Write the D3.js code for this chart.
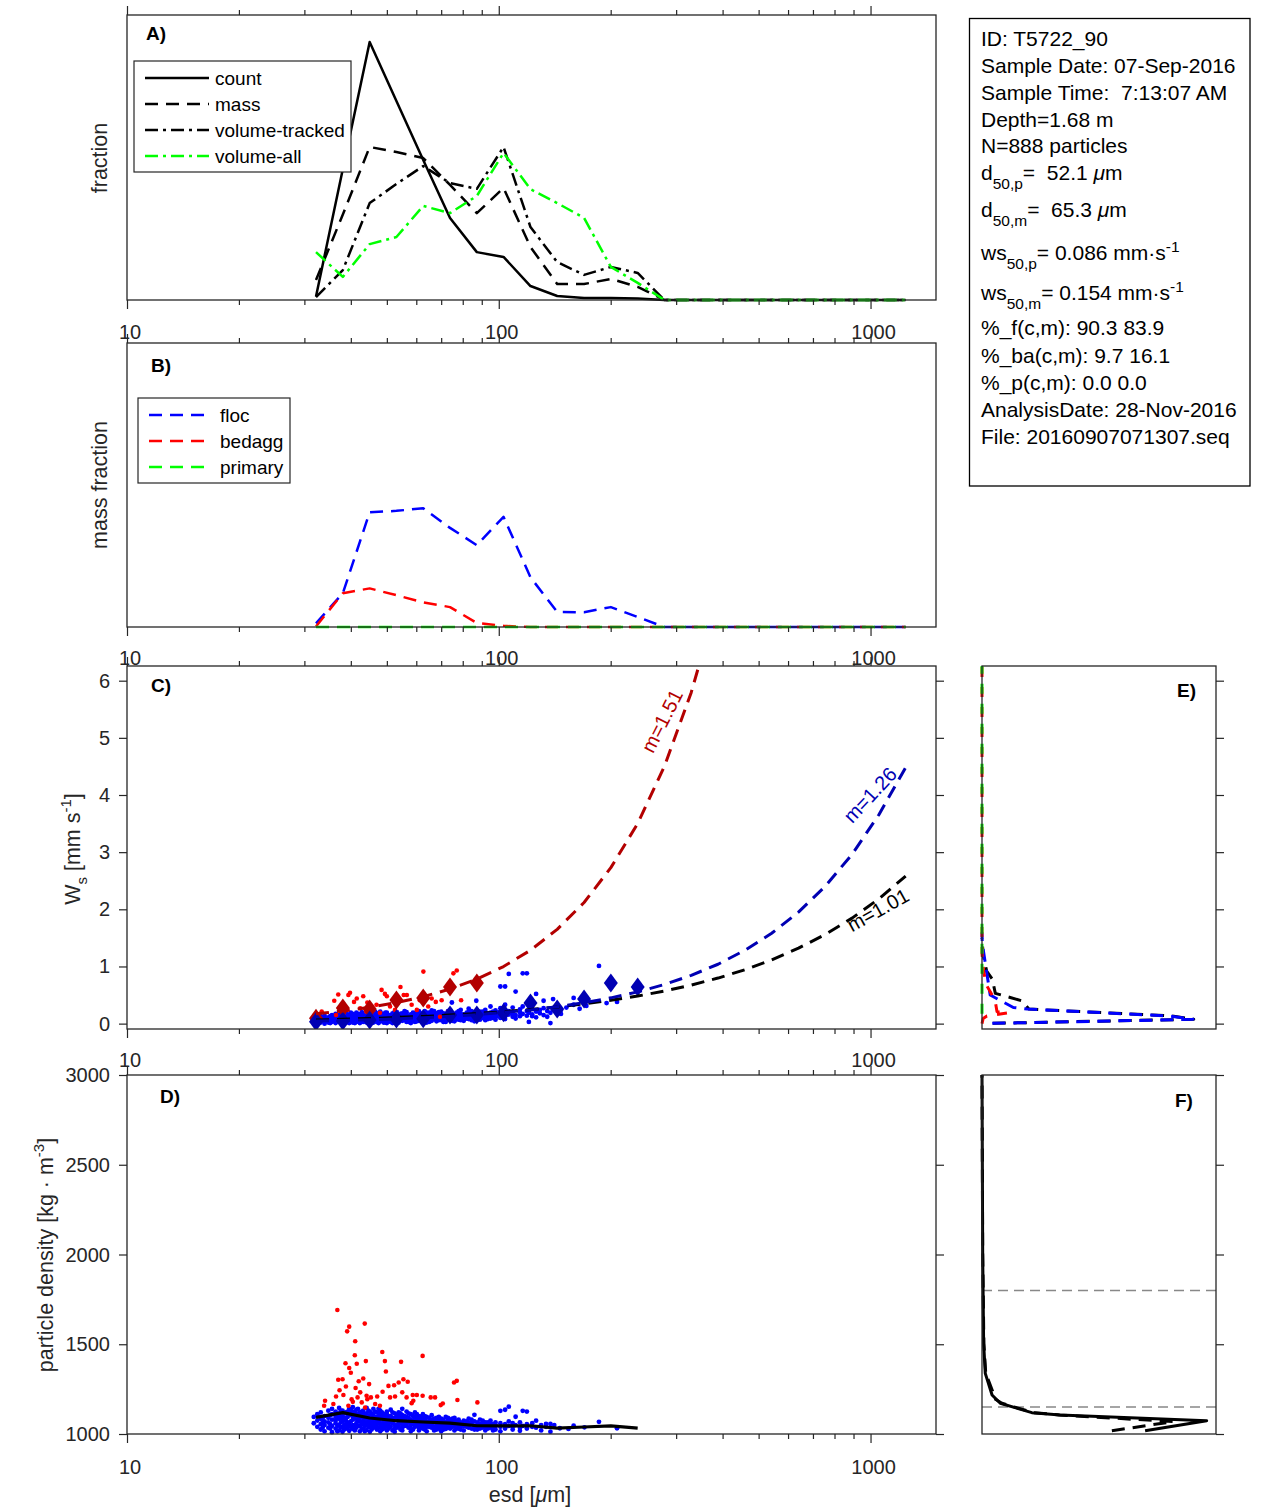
<!DOCTYPE html>
<html><head><meta charset="utf-8">
<script src="https://cdn.jsdelivr.net/npm/d3@7"></script>
<style>
body{margin:0;background:#fff;}
svg{font-family:"Liberation Sans",Arial,Helvetica,sans-serif;}
text{white-space:pre;}
</style></head><body>
<svg id="chart" width="1270" height="1511"></svg>
<script>
// ---------------- DATA ----------------
const binCenters=[32.24,38.07,44.95,53.05,62.63,73.94,87.30,103.0,121.7,143.6,169.6,200.2,236.4,279.0,329.4,388.9,459.2,542.0,640.0,755.5,891.9,1053,1243];
// panel A (fractions, relative to axis height)
const countFrac=[0.012,0.46,0.905,0.698,0.491,0.288,0.168,0.151,0.049,0.014,0.007,0.007,0.005,0,0,0,0,0,0,0,0,0,0];
const massFrac=[0.07,0.30,0.537,0.519,0.498,0.404,0.305,0.393,0.186,0.056,0.056,0.074,0.046,0,0,0,0,0,0,0,0,0,0];
const volTrackedFrac=[0.01,0.105,0.34,0.407,0.47,0.41,0.39,0.537,0.256,0.133,0.088,0.116,0.095,0,0,0,0,0,0,0,0,0,0];
const volAllFrac=[0.168,0.081,0.196,0.221,0.33,0.305,0.365,0.516,0.389,0.34,0.288,0.116,0.06,0,0,0,0,0,0,0,0,0,0];
// panel B
const flocMassFrac=[0.013,0.119,0.404,0.409,0.418,0.349,0.288,0.388,0.175,0.053,0.052,0.07,0.035,0,0,0,0,0,0,0,0,0,0];
const bedaggMassFrac=[0.002,0.119,0.136,0.112,0.087,0.07,0.014,0.004,0,0,0,0,0,0,0,0,0,0,0,0,0,0,0];
const primaryMassFrac=[0,0,0,0,0,0,0,0,0,0,0,0,0,0,0,0,0,0,0,0,0,0,0];
// panel C fitted curves (ws mm/s at bin centers)
const wsFitM151=[0.173,0.221,0.285,0.367,0.471,0.605,0.778,0.999,1.284,1.650,2.119,2.729,3.500,4.504,5.795,7.43,9.55];
const wsFitM126=[0.045,0.055,0.068,0.084,0.104,0.128,0.158,0.195,0.240,0.296,0.365,0.451,0.555,0.685,0.845,1.039,1.283,1.581,1.950,2.404,2.962,3.655,4.48];
const wsFitM101=[0.064,0.076,0.090,0.107,0.126,0.149,0.176,0.208,0.246,0.291,0.344,0.408,0.482,0.570,0.675,0.797,0.943,1.115,1.320,1.561,1.846,2.184,2.58];
const fitLabels=["m=1.51","m=1.26","m=1.01"];
// bin-mean settling velocities (diamonds)
const bedaggMeanWs=[0.093,0.273,0.255,0.413,0.448,0.64,0.71];
const flocMeanWs=[0.033,0.045,0.063,0.081,0.086,0.150,0.150,0.191,0.360,0.255,0.430,0.710,0.641];
// panel C scatter: floc columns [esd, [ws...]]
const flocWsCols=[
[31.8,[0.03,0.08]],[32.5,[0.01,0.05,0.11]],[33.2,[0.07,0.02,0.13]],[34,[0.04,0.09,0.0,0.14]],
[34.8,[0.06,0.11,0.02]],[35.6,[0.08,0.03,0.15,0.12]],[36.4,[0.05,0.10,0.01,0.17]],[37.2,[0.07,0.12,0.03,0.14]],
[38,[0.09,0.04,0.16,0.0,0.11]],[38.8,[0.06,0.13,0.02,0.18]],[39.6,[0.08,0.10,0.04,0.15,0.01]],[40.5,[0.05,0.12,0.17,0.02,0.09]],
[41.4,[0.07,0.14,0.03,0.11,0.19]],[42.3,[0.10,0.05,0.16,0.01,0.13]],[43.2,[0.06,0.12,0.08,0.18,0.03]],[44.1,[0.09,0.14,0.02,0.11,0.05]],
[45,[0.07,0.16,0.04,0.12,0.20,0.0]],[46,[0.10,0.05,0.13,0.08,0.02]],[47,[0.06,0.15,0.11,0.03,0.18]],[48,[0.09,0.13,0.04,0.07,0.21]],
[49,[0.11,0.02,0.16,0.06,0.14]],[50,[0.08,0.12,0.04,0.19,0.01]],[51.2,[0.10,0.06,0.15,0.13,0.03]],[52.5,[0.07,0.17,0.11,0.04,0.21]],
[53.8,[0.09,0.14,0.02,0.12,0.06]],[55,[0.11,0.05,0.18,0.08,0.15]],[56.5,[0.07,0.13,0.03,0.20,0.10]],[58,[0.09,0.16,0.05,0.12,0.01]],
[59.5,[0.12,0.07,0.18,0.03,0.14]],[61,[0.08,0.15,0.10,0.22,0.05]],[62.5,[0.11,0.04,0.17,0.13,0.07]],[64,[0.09,0.14,0.19,0.02,0.12]],
[66,[0.07,0.16,0.11,0.05,0.23]],[68,[0.10,0.13,0.04,0.18,0.08]],[70,[0.12,0.06,0.15,0.21,0.09]],[72,[0.08,0.17,0.11,0.03,0.14]],
[74,[0.13,0.06,0.19,0.10,0.24]],[74.8,[0.37]],[76,[0.09,0.15,0.12,0.04]],[78,[0.11,0.18,0.07,0.22,0.14]],[80.5,[0.10,0.16,0.05,0.13]],
[83,[0.12,0.20,0.08,0.26,0.15]],[86,[0.09,0.14,0.18,0.04]],[87,[0.40]],[89,[0.13,0.07,0.21,0.11]],[92,[0.10,0.16,0.24,0.06]],
[95,[0.14,0.09,0.19,0.30]],[98,[0.12,0.17,0.07,0.23]],[101,[0.15,0.10,0.27,0.65]],[104,[0.13,0.19,0.08,0.65,0.33]],
[106.4,[0.16,0.22,0.87]],[109,[0.12,0.18,0.28]],[111,[0.15,0.56,0.09]],[114,[0.20,0.13,0.25]],[116,[0.17,0.88,0.30]],
[119,[0.14,0.88,0.22]],[120.5,[0.03,0.19]],[123,[0.13,0.16,0.26]],[126,[0.52,0.21,0.11]],[129,[0.18,0.24]],
[132,[0.40,0.15,0.27]],[135,[0.22,0.12]],[137.7,[0.01,0.19]],[140,[0.43,0.25]],[144,[0.21,0.30]],[147,[0.24,0.17]],
[152,[0.28]],[159,[0.45,0.33]],[165,[0.26]],[172,[0.31]],[186,[1.01]],[195,[0.36]],[208,[0.38]],
[33.6,[0.05,0.10]],[35.2,[0.07,0.13,0.01]],[36.8,[0.09,0.04,0.15]],[37.6,[0.06,0.11,0.17]],[38.4,[0.08,0.13,0.02]],
[39.2,[0.05,0.11,0.16]],[40,[0.07,0.13,0.03,0.19]],[41,[0.09,0.15,0.01]],[41.8,[0.05,0.12,0.17]],[42.8,[0.08,0.14,0.03,0.20]],
[43.6,[0.10,0.16,0.05]],[44.6,[0.07,0.13,0.18,0.01]],[45.5,[0.09,0.14,0.04]],[46.5,[0.06,0.12,0.17,0.21]],[47.5,[0.08,0.14,0.01]],
[48.5,[0.10,0.05,0.17]],[49.5,[0.07,0.13,0.19,0.02]],[50.6,[0.09,0.15,0.05]],[51.8,[0.07,0.12,0.18,0.01]],[53.2,[0.10,0.15,0.04,0.20]],
[54.4,[0.08,0.13,0.17]],[55.8,[0.06,0.12,0.16,0.22]],[57.2,[0.09,0.14,0.03]],[58.8,[0.07,0.11,0.19]],[60.2,[0.10,0.16,0.04,0.21]],
[61.8,[0.08,0.13,0.18]],[63.2,[0.06,0.11,0.16,0.22]],[65,[0.09,0.15,0.03,0.19]],[67,[0.08,0.12,0.17,0.22]],[69,[0.06,0.11,0.16,0.20]],
[71,[0.09,0.14,0.18,0.03]],[73,[0.07,0.12,0.17,0.22]],[75,[0.10,0.15,0.05]],[77,[0.08,0.13,0.19]],[79,[0.06,0.12,0.17,0.24]],
[82,[0.09,0.14,0.19]],[84.5,[0.11,0.16,0.22,0.06]],[87.5,[0.08,0.13,0.19]],[90.5,[0.10,0.15,0.21]],[93.5,[0.12,0.18,0.08]],
[96.5,[0.10,0.15,0.21]],[99.5,[0.13,0.19]],[102.5,[0.11,0.17,0.24]]
];
// panel C scatter: bedagg [esd, ws]
const bedaggWs=[[37.0,0.51],[39.4,0.50],[39.8,0.54],[40.8,0.38],[41.5,0.44],[43.2,0.48],[44.3,0.37],[48.4,0.59],[49.4,0.52],[50.0,0.48],
[54.4,0.64],[55.5,0.50],[56.6,0.50],[62.7,0.91],[70.2,0.41],[75.5,0.88],[77.1,0.93],[66.0,0.44],[67.7,0.38],[39.0,0.24],[42.4,0.27],
[46.0,0.24],[46.9,0.33],[51.0,0.30],[52.6,0.24],[58.3,0.33],[60.2,0.24],[64.6,0.30],[38.2,0.18],[33.4,0.21],[31.7,0.06],[36.1,0.40],
[36.5,0.15],[44.0,0.21],[47.9,0.19],[73.2,0.21],[69.5,0.12],[61.3,0.41],[79.2,0.41],[53.5,0.36],[45.5,0.30]];
// panel D scatter: floc columns [esd, [density...]]
const flocRhoCols=[
[31.8,[1095,1060]],[32.5,[1110,1040,1075]],[33.2,[1085,1120,1025,1055]],[34,[1100,1050,1070,1015]],
[34.8,[1130,1065,1090,1035]],[35.6,[1080,1045,1110,1010,1140]],[36.4,[1095,1060,1125,1030,1075]],[37.2,[1115,1050,1085,1020,1145]],
[38,[1070,1100,1040,1130,1012,1088]],[38.8,[1090,1055,1120,1030,1075]],[39.6,[1105,1065,1140,1045,1018]],[40.5,[1080,1125,1050,1095,1028,1150]],
[41.4,[1060,1110,1035,1085,1135]],[42.3,[1100,1070,1045,1120,1015,1090]],[43.2,[1075,1130,1055,1030,1105]],[44.1,[1090,1050,1115,1065,1022,1145]],
[45,[1080,1040,1100,1125,1060,1012]],[46,[1070,1105,1035,1090,1140,1050]],[47,[1095,1055,1120,1025,1075]],[48,[1060,1085,1110,1040,1130,1015]],
[49,[1080,1045,1100,1065,1030]],[50,[1090,1055,1125,1020,1070,1110]],[51.2,[1065,1100,1040,1080,1135]],[52.5,[1075,1050,1115,1030,1090,1012]],
[53.8,[1060,1095,1045,1120,1070]],[55,[1085,1035,1105,1055,1140,1020]],[56.5,[1070,1045,1095,1060,1125]],[58,[1080,1030,1110,1050,1015,1065]],
[59.5,[1055,1090,1040,1075,1120]],[61,[1065,1100,1035,1080,1020,1050]],[62.5,[1045,1085,1060,1110,1030]],[64,[1070,1040,1095,1055,1015]],
[66,[1060,1080,1035,1105,1050]],[68,[1045,1075,1025,1090,1060]],[70,[1055,1085,1035,1070,1015]],[72,[1065,1040,1095,1050,1028]],
[74,[1050,1080,1030,1060]],[76,[1070,1045,1090,1020,1055]],[78,[1040,1065,1030,1080]],[80.5,[1055,1075,1020,1045]],
[83,[1060,1035,1085,1050]],[86,[1045,1070,1025,1107]],[89,[1055,1030,1080,1042]],[92,[1065,1040,1020,1050]],
[95,[1035,1060,1075]],[98,[1050,1025,1045,1065]],[101,[1040,1129,1060,1015]],[104,[1030,1135,1055]],[106.4,[1152,1045,1070]],
[109,[1025,1060,1040]],[111,[1096,1050]],[114,[1035,1065,1018]],[116,[1129,1045]],[119,[1125,1030,1055]],[123,[1040,1060]],
[126,[1074,1035]],[130,[1050,1020]],[134,[1056,1040]],[137.7,[1013,1056]],[141,[1050]],[146,[1032]],[154,[1028]],
[159,[1046]],[170,[1037]],[186,[1068]],[208,[1032]],
[33.6,[1090,1035,1065]],[35.2,[1105,1055,1030]],[36.8,[1090,1045,1110,1015]],[37.6,[1065,1100,1035,1130]],[38.4,[1080,1050,1115,1025]],
[39.2,[1095,1060,1125,1035]],[40,[1070,1110,1040,1135]],[41,[1090,1050,1120,1020]],[41.8,[1075,1100,1045,1140]],[42.8,[1060,1095,1125,1030]],
[43.6,[1085,1045,1110,1015]],[44.6,[1070,1100,1040,1130]],[45.5,[1055,1090,1115,1025]],[46.5,[1080,1060,1125,1040]],[47.5,[1070,1100,1035,1140]],
[48.5,[1050,1095,1120,1025]],[49.5,[1065,1110,1040,1085]],[50.6,[1045,1080,1100,1030]],[51.8,[1060,1090,1120,1020]],[53.2,[1050,1085,1105,1035]],
[54.4,[1070,1095,1025,1115]],[55.8,[1045,1080,1100,1060]],[57.2,[1065,1090,1035,1115]],[58.8,[1055,1075,1100,1025]],[60.2,[1045,1085,1060,1110]],
[61.8,[1070,1035,1095,1050]],[63.2,[1060,1080,1025,1100]],[65,[1050,1070,1040,1090]],[67,[1065,1040,1085,1020]],[69,[1050,1075,1030,1095]],
[71,[1045,1065,1080,1025]],[73,[1055,1075,1035,1090]],[75,[1040,1065,1085]],[77,[1055,1030,1075]],[79,[1045,1065,1025]],
[82,[1040,1070,1055]],[84.5,[1030,1060,1080]],[87.5,[1045,1065,1025]],[90.5,[1035,1055,1075]],[93.5,[1045,1065,1030]],[96.5,[1040,1055,1020]]
];
// panel D scatter: bedagg [esd, density]
const bedaggRho=[[36.8,1691],[39.6,1598],[39.1,1572],[43.6,1615],[41.1,1517],[41.0,1439],[38.7,1394],[41.5,1391],[39.6,1368],[40.0,1341],
[43.9,1406],[48.6,1457],[49.4,1406],[49.7,1348],[54.6,1402],[62.4,1435],[37.0,1302],[38.0,1305],[43.2,1309],[42.0,1294],[44.8,1278],
[37.3,1244],[38.8,1265],[41.2,1256],[42.4,1232],[36.5,1209],[38.2,1217],[40.2,1194],[44.1,1213],[45.3,1204],[47.1,1209],[48.7,1235],
[50.5,1268],[52.3,1272],[53.8,1287],[55.4,1305],[56.9,1291],[51.0,1204],[52.6,1209],[55.0,1232],[56.5,1204],[58.7,1217],[60.2,1217],
[58.3,1172],[58.9,1185],[62.4,1213],[65.6,1204],[67.4,1204],[75.8,1287],[77.1,1296],[77.4,1189],[69.8,1161],[70.7,1170],[87.6,1176],
[34.1,1185],[33.9,1157],[35.9,1167],[39.4,1157],[40.5,1179],[42.8,1176],[44.3,1194],[46.5,1167],[47.9,1157],[41.7,1204],[43.7,1148]];
const meanRho=[1093,1119,1089,1074,1067,1061,1046,1045,1046,1033,1039,1045,1033];
// panel E: [fraction, ws]
const eTotal=[[0.046,0.005],[0.905,0.077],[0.81,0.135],[0.20,0.255],[0.17,0.40],[0.057,0.53],[0.044,0.78],[0.02,0.92],[0.005,1.2],[0,1.5]];
const eFloc=[[0.044,0.005],[0.902,0.075],[0.804,0.133],[0.193,0.255],[0.134,0.282],[0.035,0.50],[0.014,1.06],[0.001,1.41],[0,1.6]];
const eBedagg=[[0,0.0],[0.005,0.09],[0.021,0.133],[0.112,0.19],[0.064,0.21],[0.057,0.38],[0.043,0.50],[0.019,0.675],[0.007,0.91],[0,1.23],[0,6.257]];
const ePrimary=[[0,0],[0,6.257]];
// panel F: [fraction, density]
const fSolid=[[0.697,1018],[0.960,1074],[0.334,1106],[0.213,1119],[0.078,1171],[0.043,1217],[0.014,1338],[0.007,1505],[0.003,2000],[0,3000]];
const fDashed=[[0.555,1018],[0.818,1069],[0.33,1106],[0.22,1119],[0.085,1171],[0.05,1200],[0.045,1240],[0.016,1338],[0.008,1505],[0.003,2000],[0,3000]];
const fRefRho=[1800,1150];
// ticks
const xTickMajor=[10,100,1000];
const xTickLabels=["10","100","1000"];
const xTickMinor=[20,30,40,50,60,70,80,90,200,300,400,500,600,700,800,900];
const wsTicks=[0,1,2,3,4,5,6];
const rhoTicks=[1000,1500,2000,2500,3000];
// info box
const infoLines=[
 [["ID: T5722_90"]],
 [["Sample Date: 07-Sep-2016"]],
 [["Sample Time:  7:13:07 AM"]],
 [["Depth=1.68 m"]],
 [["N=888 particles"]],
 [["d"],["50,p","sub"],["=  52.1 "],["\u03bc","it"],["m"]],
 [["d"],["50,m","sub"],["=  65.3 "],["\u03bc","it"],["m"]],
 [["ws"],["50,p","sub"],["= 0.086 mm\u00b7s"],["-1","sup"]],
 [["ws"],["50,m","sub"],["= 0.154 mm\u00b7s"],["-1","sup"]],
 [["%_f(c,m): 90.3 83.9"]],
 [["%_ba(c,m): 9.7 16.1"]],
 [["%_p(c,m): 0.0 0.0"]],
 [["AnalysisDate: 28-Nov-2016"]],
 [["File: 20160907071307.seq"]]
];

// ---------------- LAYOUT ----------------
const AX='#262626';
const L=127,R=936;
const P={A:[15,300],B:[343,627],C:[666,1029],D:[1075,1434]};
const EX=[982,1216];
const svg=d3.select('#chart');
const x=d3.scaleLog().domain([10,1500]).range([L,R]);
const yA=d3.scaleLinear().domain([0,1]).range([P.A[1],P.A[0]]);
const yB=d3.scaleLinear().domain([0,1]).range([P.B[1],P.B[0]]);
const yC=d3.scaleLinear().domain([-0.094,6.257]).range([P.C[1],P.C[0]]);
const yD=d3.scaleLinear().domain([1000,3000]).range([P.D[1],P.D[0]]);
const xE=d3.scaleLinear().domain([0,1]).range(EX);
const LBL=21.5;

function styleAxis(g){g.select('.domain').remove();g.selectAll('line').attr('stroke',AX).attr('stroke-width',1.2);g.selectAll('text').remove();}
function frame(x0,y0,x1,y1){svg.append('rect').attr('x',x0).attr('y',y0).attr('width',x1-x0).attr('height',y1-y0).attr('fill','none').attr('stroke',AX).attr('stroke-width',1.3);}
function xAxes(top,bot,labelBase){
  svg.append('g').attr('transform',`translate(0,${bot})`).call(d3.axisBottom(x).tickValues(xTickMajor).tickSize(9)).call(styleAxis);
  svg.append('g').attr('transform',`translate(0,${bot})`).call(d3.axisBottom(x).tickValues(xTickMinor).tickSize(5)).call(styleAxis);
  svg.append('g').attr('transform',`translate(0,${top})`).call(d3.axisTop(x).tickValues(xTickMajor).tickSize(9)).call(styleAxis);
  svg.append('g').attr('transform',`translate(0,${top})`).call(d3.axisTop(x).tickValues(xTickMinor).tickSize(5)).call(styleAxis);
  svg.append('g').selectAll('text').data(xTickLabels).join('text')
    .attr('x',(d,i)=>x(xTickMajor[i])+3).attr('y',labelBase).attr('text-anchor','middle')
    .attr('font-size',20).attr('fill',AX).text(d=>d);
}
function yLabels(scale,vals,xr){
  svg.append('g').selectAll('text').data(vals).join('text').attr('x',xr).attr('y',d=>scale(d)+7)
    .attr('text-anchor','end').attr('font-size',20).attr('fill',AX).text(d=>d);
}
function panelLabel(t,xx,yy){svg.append('text').attr('x',xx).attr('y',yy).attr('font-size',19).attr('font-weight','bold').attr('fill','#000').text(t);}
function path(data,xs,ys,color,width,dash,clip,offset){
  const p=svg.append('path').datum(data).attr('d',d3.line().x(d=>xs(d[0])).y(d=>ys(d[1])))
    .attr('fill','none').attr('stroke',color).attr('stroke-width',width).attr('stroke-linejoin','round');
  if(dash)p.attr('stroke-dasharray',dash);
  if(offset)p.attr('stroke-dashoffset',offset);
  if(clip)p.attr('clip-path',`url(#${clip})`);
  return p;
}
const zip=(a)=>a.map((v,i)=>[binCenters[i],v]);
const flat=(cols)=>cols.flatMap(c=>c[1].map(v=>[c[0],v]));
const defs=svg.append('defs');
defs.append('clipPath').attr('id','clipC').append('rect').attr('x',L).attr('y',P.C[0]).attr('width',R-L).attr('height',P.C[1]-P.C[0]);

const DASH='13,8', DASHDOT='13,5,3,5', THICKDASH='13,8';
const LW=2.5;

// ---------------- PANEL A ----------------
path(zip(countFrac),x,yA,'#000',LW,null);
path(zip(massFrac),x,yA,'#000',LW,DASH);
path(zip(volTrackedFrac),x,yA,'#000',LW,DASHDOT);
path(zip(volAllFrac),x,yA,'#00ff00',LW,DASHDOT);
frame(L,P.A[0],R,P.A[1]);
xAxes(P.A[0],P.A[1],339);
panelLabel('A)',146,40);
svg.append('text').attr('transform','translate(107,158) rotate(-90)').attr('text-anchor','middle').attr('font-size',LBL).attr('fill',AX).text('fraction');
// legend A
svg.append('rect').attr('x',134).attr('y',61).attr('width',217).attr('height',111).attr('fill','#fff').attr('stroke',AX).attr('stroke-width',1.2);
const legA=[['count','#000',null],['mass','#000',DASH],['volume-tracked','#000',DASHDOT],['volume-all','#00ff00',DASHDOT]];
legA.forEach((it,i)=>{const yy=78+i*26;
  const l=svg.append('line').attr('x1',145).attr('x2',209).attr('y1',yy).attr('y2',yy).attr('stroke',it[1]).attr('stroke-width',LW);
  if(it[2])l.attr('stroke-dasharray',it[2]);
  svg.append('text').attr('x',215).attr('y',yy+7).attr('font-size',19).attr('fill','#000').text(it[0]);});

// ---------------- PANEL B ----------------
path(zip(flocMassFrac),x,yB,'#0000ff',LW,DASH);
path(zip(bedaggMassFrac),x,yB,'#ff0000',LW,DASH);
path(zip(primaryMassFrac),x,yB,'#00ff00',LW,DASH);
frame(L,P.B[0],R,P.B[1]);
xAxes(P.B[0],P.B[1],665);
panelLabel('B)',151,372);
svg.append('text').attr('transform','translate(107,485) rotate(-90)').attr('text-anchor','middle').attr('font-size',LBL).attr('fill',AX).text('mass fraction');
svg.append('rect').attr('x',138).attr('y',398).attr('width',152).attr('height',85).attr('fill','#fff').attr('stroke',AX).attr('stroke-width',1.2);
const legB=[['floc','#0000ff'],['bedagg','#ff0000'],['primary','#00ff00']];
legB.forEach((it,i)=>{const yy=415+i*26;
  svg.append('line').attr('x1',149).attr('x2',212).attr('y1',yy).attr('y2',yy).attr('stroke',it[1]).attr('stroke-width',LW).attr('stroke-dasharray',DASH);
  svg.append('text').attr('x',220).attr('y',yy+7).attr('font-size',19).attr('fill','#000').text(it[0]);});

// ---------------- PANEL C ----------------
const gC=svg.append('g').attr('clip-path','url(#clipC)');
gC.selectAll('circle.fc').data(flat(flocWsCols)).join('circle').attr('class','fc')
  .attr('cx',d=>x(d[0])).attr('cy',d=>yC(d[1])).attr('r',2.4).attr('fill','#0000ff');
gC.selectAll('circle.bc').data(bedaggWs).join('circle').attr('class','bc')
  .attr('cx',d=>x(d[0])).attr('cy',d=>yC(d[1])).attr('r',2.3).attr('fill','#ff0000');
const diamond='M0,-9.5L7,0L0,9.5L-7,0Z';
gC.selectAll('path.bd').data(zip(bedaggMeanWs)).join('path').attr('class','bd').attr('d',diamond)
  .attr('transform',d=>`translate(${x(d[0])},${yC(d[1])})`).attr('fill','#b30000');
gC.selectAll('path.fd').data(zip(flocMeanWs)).join('path').attr('class','fd').attr('d',diamond)
  .attr('transform',d=>`translate(${x(d[0])},${yC(d[1])})`).attr('fill','#0000b3');
path(zip(wsFitM101),x,yC,'#000',3,THICKDASH,'clipC');
path(zip(wsFitM126),x,yC,'#0000b3',3,THICKDASH,'clipC');
path(zip(wsFitM151),x,yC,'#b30000',3,THICKDASH,'clipC');
const fitLabelPos=[[662,721,-63,'#b30000'],[870,795,-47,'#0000b3'],[878,910,-29,'#000']];
fitLabels.forEach((t,i)=>{const p=fitLabelPos[i];
  svg.append('text').attr('transform',`translate(${p[0]},${p[1]}) rotate(${p[2]})`).attr('text-anchor','middle').attr('dy','0.35em')
   .attr('font-size',20).attr('fill',p[3]).text(t);});
frame(L,P.C[0],R,P.C[1]);
xAxes(P.C[0],P.C[1],1067);
svg.append('g').attr('transform',`translate(${L},0)`).call(d3.axisLeft(yC).tickValues(wsTicks).tickSize(8)).call(styleAxis);
svg.append('g').attr('transform',`translate(${R},0)`).call(d3.axisRight(yC).tickValues(wsTicks).tickSize(8)).call(styleAxis);
yLabels(yC,wsTicks,110);
panelLabel('C)',151,692);
{const t=svg.append('text').attr('transform','translate(80,849) rotate(-90)').attr('text-anchor','middle').attr('font-size',LBL).attr('fill',AX);
 t.append('tspan').text('W');t.append('tspan').attr('font-size',15).attr('dy',7).text('s');
 t.append('tspan').attr('dy',-7).text(' [mm s');t.append('tspan').attr('font-size',15).attr('dy',-9).text('-1');
 t.append('tspan').attr('dy',9).text(']');}

// ---------------- PANEL D ----------------
svg.selectAll('circle.fr').data(flat(flocRhoCols)).join('circle').attr('class','fr')
  .attr('cx',d=>x(d[0])).attr('cy',d=>yD(d[1])).attr('r',2.4).attr('fill','#0000ff');
svg.selectAll('circle.br').data(bedaggRho).join('circle').attr('class','br')
  .attr('cx',d=>x(d[0])).attr('cy',d=>yD(d[1])).attr('r',2.3).attr('fill','#ff0000');
path(zip(meanRho),x,yD,'#000',3.2,null);
frame(L,P.D[0],R,P.D[1]);
xAxes(P.D[0],P.D[1],1474);
svg.append('g').attr('transform',`translate(${L},0)`).call(d3.axisLeft(yD).tickValues(rhoTicks).tickSize(8)).call(styleAxis);
svg.append('g').attr('transform',`translate(${R},0)`).call(d3.axisRight(yD).tickValues(rhoTicks).tickSize(8)).call(styleAxis);
yLabels(yD,rhoTicks,110);
panelLabel('D)',160,1103);
{const t=svg.append('text').attr('transform','translate(53,1255) rotate(-90)').attr('text-anchor','middle').attr('font-size',LBL).attr('fill',AX);
 t.append('tspan').text('particle density [kg \u00b7 m');t.append('tspan').attr('font-size',15).attr('dy',-9).text('-3');
 t.append('tspan').attr('dy',9).text(']');}
{const t=svg.append('text').attr('x',530).attr('y',1502).attr('text-anchor','middle').attr('font-size',LBL).attr('fill',AX);
 t.append('tspan').text('esd [');t.append('tspan').attr('font-style','italic').text('\u03bc');t.append('tspan').text('m]');}

// ---------------- PANEL E ----------------
path(eTotal,xE,yC,'#000',3,THICKDASH);
path(eFloc,xE,yC,'#0000ff',3,THICKDASH);
path(eBedagg,xE,yC,'#ff0000',3,'10,10');
path(ePrimary,xE,yC,'#00ff00',3,'10,10',null,10);
frame(EX[0],P.C[0],EX[1],P.C[1]);
svg.append('g').attr('transform',`translate(${EX[1]},0)`).call(d3.axisRight(yC).tickValues(wsTicks).tickSize(8)).call(styleAxis);
panelLabel('E)',1177,697);

// ---------------- PANEL F ----------------
fRefRho.forEach(r=>{svg.append('line').attr('x1',EX[0]).attr('x2',EX[1]).attr('y1',yD(r)).attr('y2',yD(r))
  .attr('stroke','#888').attr('stroke-width',1.5).attr('stroke-dasharray','10,6');});
path(fSolid,xE,yD,'#000',3,null);
path(fDashed,xE,yD,'#000',3,THICKDASH);
frame(EX[0],P.D[0],EX[1],P.D[1]);
svg.append('g').attr('transform',`translate(${EX[1]},0)`).call(d3.axisRight(yD).tickValues(rhoTicks).tickSize(8)).call(styleAxis);
panelLabel('F)',1175,1107);

// ---------------- INFO BOX ----------------
svg.append('rect').attr('x',969.5).attr('y',18.5).attr('width',280.5).attr('height',467.5).attr('fill','none').attr('stroke','#000').attr('stroke-width',1.3);
const infoBase=[46,73,100,127,153,180,217,260,300,335,363,390,417,444];
infoLines.forEach((segs,i)=>{
  const t=svg.append('text').attr('x',981).attr('y',infoBase[i]).attr('font-size',21).attr('fill','#000');
  let shift=0;
  segs.forEach(s=>{
    const sp=t.append('tspan');let target=0;
    if(s[1]==='sub'){target=8.5;sp.attr('font-size',15.5);}
    else if(s[1]==='sup'){target=-8;sp.attr('font-size',15.5);}
    else if(s[1]==='it'){sp.attr('font-style','italic');}
    if(target!==shift){sp.attr('dy',target-shift);shift=target;}
    sp.text(s[0]);
  });
});
</script></body></html>
